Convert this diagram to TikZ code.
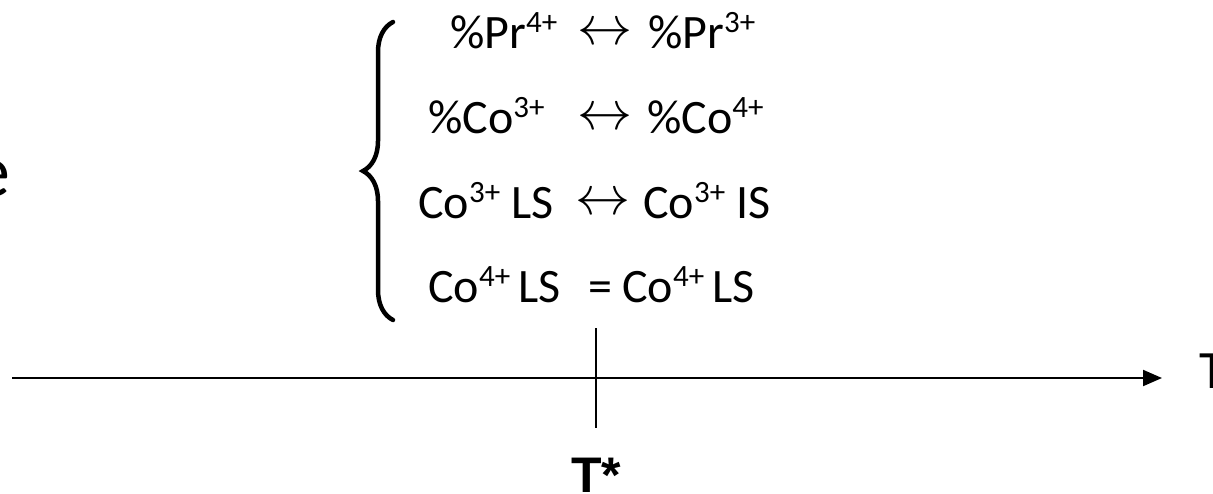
\documentclass[tikz,border=0pt]{standalone}
\usepackage{graphicx}
\usepackage{fontspec}
\setmainfont{Carlito}
\newfontfamily\starfont{Liberation Sans}
\usetikzlibrary{arrows.meta,decorations.pathreplacing}
\newcommand\chg[1]{\raisebox{16pt}{\fontsize{31}{31}\selectfont #1}}
\newcommand\lra{\scalebox{5.5}{$\leftrightarrow$}}

\begin{document}
\begin{tikzpicture}[x=1pt, y=-1pt,
  state/.style={inner sep=0pt, anchor=base west, font=\fontsize{48}{58}\selectfont},
  swap/.style={inner sep=0pt, anchor=center},
  axislabel/.style={inner sep=0pt, anchor=base, font=\fontsize{54}{64}\selectfont},
  critical/.style={inner sep=0pt, anchor=base, font=\starfont\bfseries\fontsize{50}{60}\selectfont},
  bracket/.style={line width=4.5pt, line cap=round, decorate, decoration={brace, amplitude=30pt}}
]
\useasboundingbox (0,0) rectangle (1213,493);

% Cut-off label at the left edge
\node[inner sep=0pt, anchor=base east, font=\fontsize{74}{84}\selectfont] (cut-label) at (11,196) {e};

% Row 1: Pr valence
\node[state] (pr-left) at (450,48) {\%Pr\chg{4+}};
\node[swap] (pr-swap) at (605,34) {\lra};
\node[state] (pr-right) at (648,48) {\%Pr\chg{3+}};

% Row 2: Co valence
\node[state] (co-left) at (428,133) {\%Co\chg{3+}};
\node[swap] (co-swap) at (605,119) {\lra};
\node[state] (co-right) at (647,133) {\%Co\chg{4+}};

% Row 3: Co3+ spin state
\node[state] (spin3-left) at (418,218) {Co\chg{3+} LS};
\node[swap] (spin3-swap) at (603,204) {\lra};
\node[state] (spin3-right) at (643,218) {Co\chg{3+} IS};

% Row 4: Co4+ spin state (unchanged)
\node[state] (spin4-left) at (428,302) {Co\chg{4+}\,LS};
\node[state, anchor=base] (spin4-eq) at (600,302) {=};
\node[state] (spin4-right) at (622,302) {Co\chg{4+}\,LS};

% Brace grouping the four rows
\coordinate (brace-bot) at (393,320);
\coordinate (brace-top) at (393,22);
\draw[bracket] (brace-bot) -- (brace-top);

% Temperature axis
\coordinate (axis-start) at (12,378);
\coordinate (axis-end) at (1162,378);
\draw[line width=2pt, -{Triangle[length=19pt, width=16pt]}] (axis-start) -- (axis-end);
\node[axislabel] (axis-label) at (1212.5,388) {T};

% Marker at T*
\coordinate (tick-top) at (596,328);
\coordinate (tick-bot) at (596,428);
\draw[line width=2.7pt] (tick-top) -- (tick-bot);
\node[critical] (tstar) at (596,492) {T*};

\end{tikzpicture}
\end{document}
